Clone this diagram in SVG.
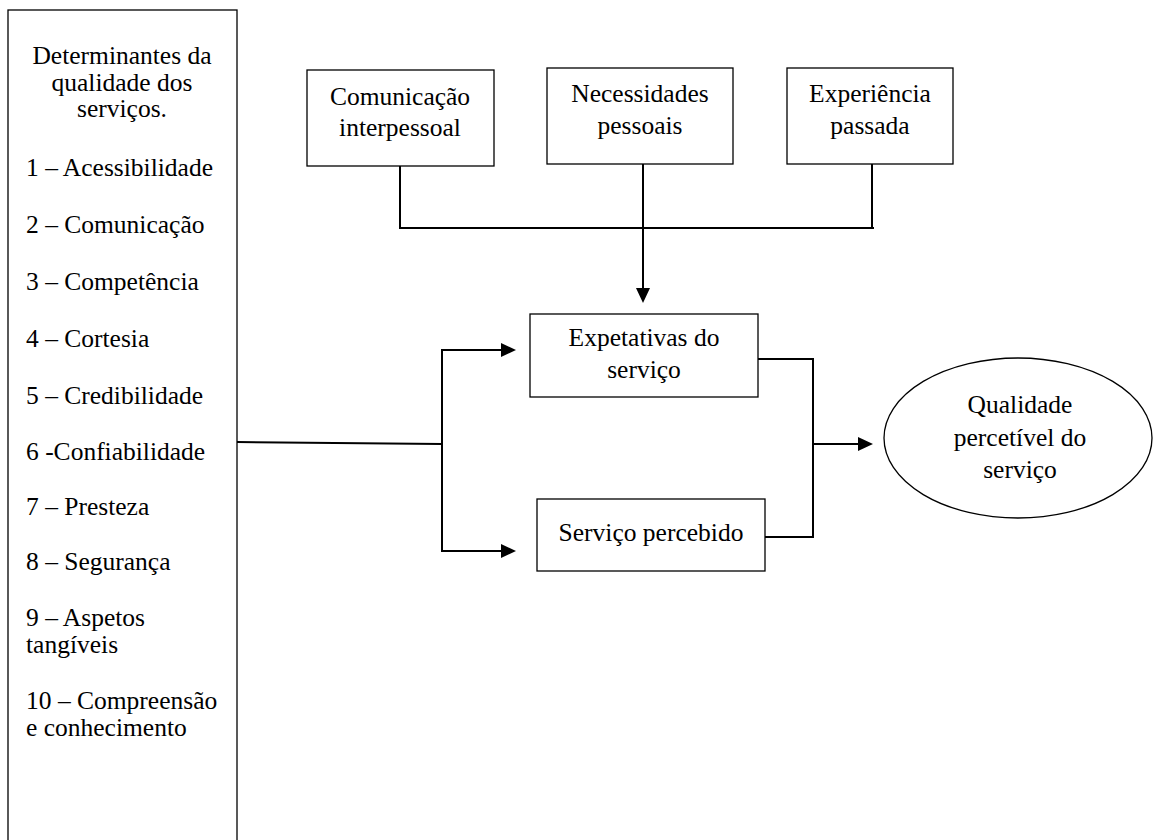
<svg xmlns="http://www.w3.org/2000/svg" width="1154" height="840" viewBox="0 0 1154 840">
<style>
.box{fill:#fff;stroke:#000;stroke-width:1.3}
.t{font-family:"Liberation Serif","Times New Roman",serif;font-size:25.5px;fill:#000}
.c{text-anchor:middle}
.ln{fill:none;stroke:#000;stroke-width:2}
</style>
<defs>
<marker id="arr" markerWidth="15" markerHeight="14" refX="10" refY="7" orient="auto" markerUnits="userSpaceOnUse">
<path d="M0,0 L15,7 L0,14 Z" fill="#000"/>
</marker>
</defs>
<rect width="1154" height="840" fill="#fff"/>

<g id="determinantes">
<rect class="box" x="8" y="10" width="229" height="850"/>
<text class="t c" x="122" y="64">Determinantes da</text>
<text class="t c" x="122" y="90.5">qualidade dos</text>
<text class="t c" x="122" y="117">serviços.</text>
<text class="t" x="26" y="175.5">1 – Acessibilidade</text>
<text class="t" x="26" y="233">2 – Comunicação</text>
<text class="t" x="26" y="290">3 – Competência</text>
<text class="t" x="26" y="347">4 – Cortesia</text>
<text class="t" x="26" y="403.5">5 – Credibilidade</text>
<text class="t" x="26" y="459.5">6 -Confiabilidade</text>
<text class="t" x="26" y="514.5">7 – Presteza</text>
<text class="t" x="26" y="569.5">8 – Segurança</text>
<text class="t" x="26" y="626">9 – Aspetos</text>
<text class="t" x="26" y="653">tangíveis</text>
<text class="t" x="26" y="709">10 – Compreensão</text>
<text class="t" x="26" y="736">e conhecimento</text>
</g>

<g id="comunicacao">
<rect class="box" x="307" y="70" width="187" height="96"/>
<text class="t c" x="400" y="105">Comunicação</text>
<text class="t c" x="400" y="136">interpessoal</text>
</g>

<g id="necessidades">
<rect class="box" x="547" y="68" width="186" height="96"/>
<text class="t c" x="640" y="102">Necessidades</text>
<text class="t c" x="640" y="134">pessoais</text>
</g>

<g id="experiencia">
<rect class="box" x="787" y="68" width="166" height="96"/>
<text class="t c" x="870" y="102">Experiência</text>
<text class="t c" x="870" y="134">passada</text>
</g>

<g id="expetativas">
<rect class="box" x="530" y="314" width="228" height="83"/>
<text class="t c" x="644" y="346">Expetativas do</text>
<text class="t c" x="644" y="378">serviço</text>
</g>

<g id="percebido">
<rect class="box" x="537" y="499" width="228" height="72"/>
<text class="t c" x="651" y="541">Serviço percebido</text>
</g>

<g id="qualidade">
<ellipse class="box" cx="1018" cy="438" rx="134" ry="80"/>
<text class="t c" x="1020" y="413">Qualidade</text>
<text class="t c" x="1020" y="446">percetível do</text>
<text class="t c" x="1020" y="478">serviço</text>
</g>

<g id="connectors">
<polyline class="ln" points="400,166 400,228 874,228"/>
<line class="ln" x1="872" y1="164" x2="872" y2="228"/>
<line class="ln" x1="643" y1="164" x2="643" y2="298" marker-end="url(#arr)"/>
<line class="ln" x1="237" y1="442" x2="442" y2="444"/>
<polyline class="ln" points="511,350 442,350 442,551 511,551"/>
<line class="ln" x1="442" y1="350" x2="511" y2="350" marker-end="url(#arr)"/>
<line class="ln" x1="442" y1="551" x2="511" y2="551" marker-end="url(#arr)"/>
<polyline class="ln" points="758,359 813,359 813,537 765,537"/>
<line class="ln" x1="813" y1="444" x2="868" y2="444" marker-end="url(#arr)"/>
</g>
</svg>
